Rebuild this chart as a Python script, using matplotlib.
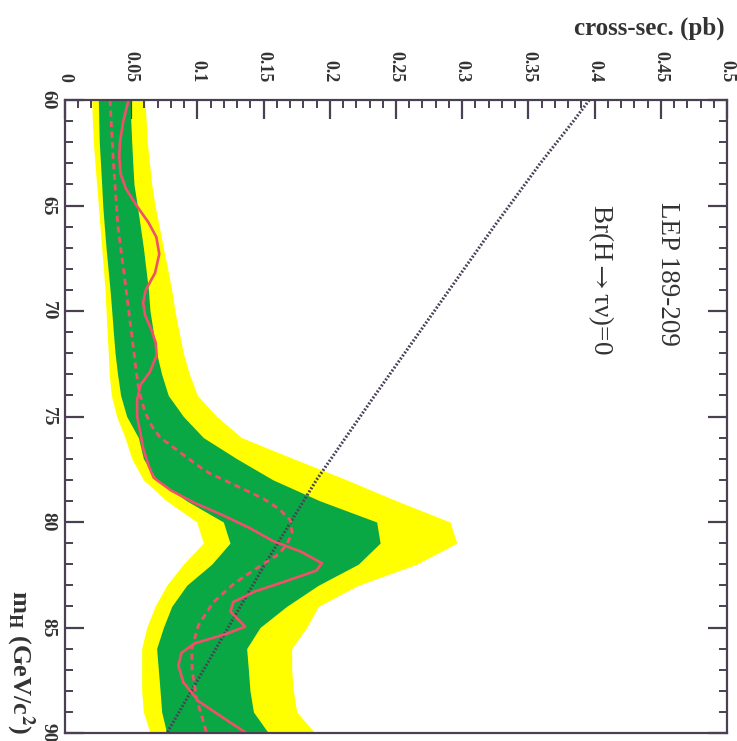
import matplotlib
matplotlib.use("Agg")
import matplotlib.pyplot as plt
from matplotlib.ticker import MultipleLocator

plt.rcParams["font.family"] = ["Liberation Serif", "DejaVu Serif"]
plt.rcParams["mathtext.fontset"] = "stix"

FRAME = "#4a4052"
TXT = "#333333"

# ---------- data ----------
mh_band = list(range(60, 91))
y_lo = [.0201, .0207, .0214, .0226, .0239, .0252, .0264, .0277, .029, .0302, .031,
        .0318, .0327, .0334, .035, .039, .0453, .0504, .0592, .0768, .0995, .1045,
        .0894, .0768, .068, .0617, .0579, .0579, .0579, .0592, .0642]
g_lo = [.0252, .0255, .0259, .0268, .0277, .0285, .0297, .031, .0325, .034, .0353,
        .0365, .0378, .0397, .042, .0466, .0554, .0592, .0692, .0919, .1196, .1246,
        .1108, .0919, .0806, .0743, .0692, .0705, .0718, .073, .0768]
g_hi = [.0491, .0497, .0504, .0512, .0521, .0546, .0569, .0592, .0611, .063, .0642,
        .0667, .0692, .073, .078, .0894, .1045, .1297, .157, .1926, .2354, .238,
        .2215, .1913, .1674, .1473, .1372, .1385, .1397, .1423, .1536]
y_hi = [.0604, .0613, .0622, .0638, .0655, .068, .0712, .0743, .0775, .0806, .083,
        .0862, .0894, .094, .100, .1146, .1334, .1725, .2127, .2505, .2908, .296,
        .2656, .2215, .1913, .1825, .1712, .1712, .1725, .175, .1888]

mh_obs = [60.0, 61.0, 62.0, 62.7, 63.5, 64.2, 65.0, 65.8, 66.5, 67.3, 68.2, 69.0,
          69.6, 70.2, 70.8, 71.5, 72.1, 72.9, 73.5, 74.2, 75.0, 75.8, 76.5, 77.3,
          77.9, 78.5, 79.1, 79.7, 80.3, 80.9, 81.4, 81.95, 82.3, 82.8, 83.3, 83.8,
          84.25, 84.7, 84.96, 85.3, 85.75, 86.2, 86.8, 87.6, 88.5, 89.3, 90.0]
xs_obs = [.048, .044, .0415, .041, .042, .046, .054, .063, .069, .0712, .068, .061,
          .059, .0605, .0647, .0685, .0692, .064, .057, .0545, .0545, .057, .059, .063,
          .067, .080, .098, .120, .140, .157, .178, .194, .190, .167, .143, .127,
          .125, .132, .136, .122, .098, .088, .0856, .0894, .101, .120, .137]

mh_exp = [60, 62.9, 66.0, 69.2, 72.4, 73.7, 74.8, 75.5, 76.0, 76.7, 77.4, 77.7, 78.3,
          78.9, 79.4, 79.9, 80.5, 81.0, 81.5, 82.1, 82.9, 83.8, 84.9, 86.0, 87.0,
          88.4, 90]
xs_exp = [.034, .0365, .040, .0466, .0529, .0556, .0604, .066, .072, .0869, .102,
          .1095, .130, .150, .162, .170, .1715, .168, .162, .147, .128, .112, .1007,
          .0957, .096, .0995, .107]

mh_th = [60, 61, 63, 66, 70, 74, 78, 82, 86, 90]
xs_th = [.396, .384, .359, .324, .279, .234, .190, .151, .114, .077]

# ---------- figure ----------
fig = plt.figure(figsize=(7.37, 7.41), dpi=100)
ax = fig.add_axes([65 / 737, 1 - 733 / 741, 662 / 737, 633 / 741])

ax.fill_betweenx(mh_band, y_lo, y_hi, color="#ffff00", lw=0, zorder=1)
ax.fill_betweenx(mh_band, g_lo, g_hi, color="#0aa845", lw=0, zorder=2)
ax.plot(xs_th, mh_th, color="#4b4158", lw=2.2, ls=(0, (0.6, 0.6)), zorder=3)
ax.plot(xs_exp, mh_exp, color="#f0506a", lw=2.0, ls=(0, (2.2, 1.6)), zorder=4)
ax.plot(xs_obs, mh_obs, color="#f0506a", lw=1.9, zorder=5)

ax.set_xlim(0, 0.5)
ax.set_ylim(90, 60)

ax.xaxis.tick_top()
ax.xaxis.set_minor_locator(MultipleLocator(0.01))
ax.yaxis.set_minor_locator(MultipleLocator(1))
ax.tick_params(axis="x", which="both", top=True, bottom=False, direction="in",
               color=FRAME, labelcolor=TXT)
ax.tick_params(axis="y", which="both", left=True, right=True, direction="in",
               color=FRAME, labelcolor=TXT)
ax.tick_params(which="major", length=14, width=1.6)
ax.tick_params(which="minor", length=6, width=1.4)

xt = [i * 0.05 for i in range(11)]
ax.set_xticks(xt)
ax.set_xticklabels(["0" if v == 0 else f"{v:.2f}".rstrip("0") for v in xt],
                   rotation=-90, fontsize=13, fontweight="bold")
ax.tick_params(axis="x", pad=13)
yt = [60, 65, 70, 75, 80, 85, 90]
ax.set_yticks(yt)
ax.set_yticklabels([str(v) for v in yt], rotation=-90, fontsize=14,
                   fontweight="bold", va="center")
ax.tick_params(axis="y", pad=6)

for s in ax.spines.values():
    s.set_color(FRAME)
    s.set_linewidth(1.6)
    s.set_zorder(6)

ax.text(0.4554, 64.85, "LEP 189-209", rotation=-90, ha="center", va="top",
        fontsize=19.5, color=TXT)
ax.text(0.405, 64.95, r"Br(H$\rightarrow$τν)=0", rotation=-90, ha="center",
        va="top", fontsize=19.5, color=TXT)

fig.text(725 / 737, 1 - 28 / 741, "cross-sec. (pb)", ha="right", va="center",
         fontsize=18, fontweight="bold", color=TXT)
fig.text(20 / 737, 1 - 590 / 741, r"m$_\mathbf{H}$ (GeV/c$^\mathbf{2}$)",
         rotation=-90, ha="center", va="top", fontsize=19, fontweight="bold",
         color=TXT)

fig.savefig("out.png", dpi=100, facecolor="white")
